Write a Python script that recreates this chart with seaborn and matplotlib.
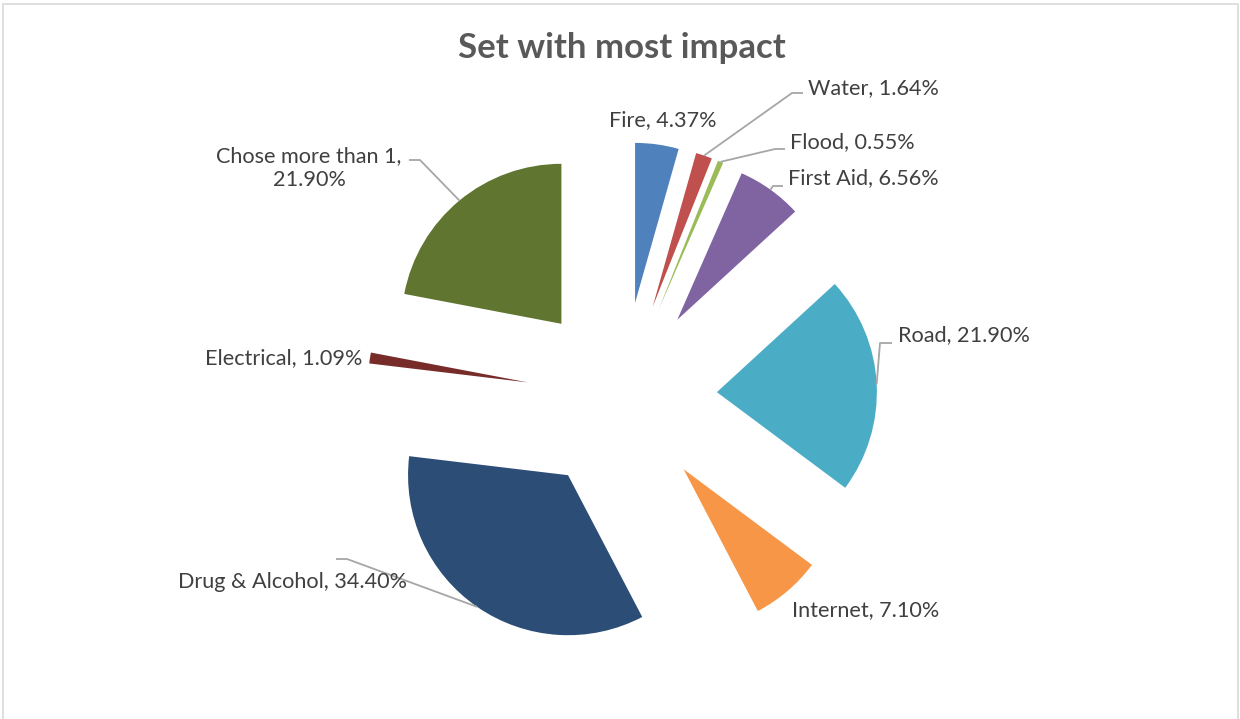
import matplotlib
matplotlib.use("Agg")
import matplotlib.pyplot as plt
import seaborn as sns
import numpy as np
from matplotlib.patches import Rectangle

categories = ["Fire", "Water", "Flood", "First Aid", "Road", "Internet",
              "Drug & Alcohol", "Electrical", "Chose more than 1"]
shares = [4.37, 1.64, 0.55, 6.56, 21.90, 7.10, 34.40, 1.09, 21.90]
colors = ["#4F81BD", "#C0504D", "#9BBB59", "#8064A2", "#4BACC6",
          "#F79646", "#2C4D75", "#772C2A", "#5F7530"]

sns.set_theme(style="white")
plt.rcParams["font.family"] = ["Lato", "DejaVu Sans"]

W, H = 1240, 719
fig = plt.figure(figsize=(W / 100, H / 100), dpi=100)
ax = fig.add_axes([0, 0, 1, 1])
ax.set_xlim(0, W)
ax.set_ylim(0, H)
ax.set_aspect("equal")
ax.axis("off")


def py(y):
    # pixel row (from top) -> data y
    return H - y


# chart frame
ax.add_patch(Rectangle((2.5, -10), 1235, py(3.5) + 10, fill=False,
                       edgecolor="#D9D9D9", lw=1.2, clip_on=False))

# pie works in pixel units here, so explode is an absolute offset
wedges, _ = ax.pie(shares, colors=colors, startangle=90, counterclock=False,
                   radius=160, center=(622, py(397)),
                   explode=[95] * len(shares),
                   wedgeprops=dict(linewidth=0))
ax.set_xlim(0, W)
ax.set_ylim(0, H)

fig.text(622 / W, 1 - 48 / H, "Set with most impact", ha="center", va="center",
         fontsize=25, fontweight="bold", color="#595959")

# label layout: (text x, text y, ha, elbow far x, elbow near x, elbow y)
layout = [
    (663, 120, "center", None),
    (808, 88, "left", (803, 792, 93)),
    (790, 142, "left", (785, 775, 149)),
    (788, 178, "left", (783, 773, 186)),
    (898, 335, "left", (892, 880, 343)),
    (792, 610, "left", None),
    (178, 582, "left", (336, 347, 559)),
    (205, 358, "left", None),
    (309, 168, "center", (409, 420, 160)),
]

for cat, val, w, (tx, ty, ha, elbow) in zip(categories, shares, wedges, layout):
    if cat == "Chose more than 1":
        label = f"{cat},\n{val:.2f}%"
    else:
        label = f"{cat}, {val:.2f}%"
    ax.text(tx, py(ty), label, ha=ha, va="center", fontsize=15.6,
            color="#404040", linespacing=1.3, multialignment="center")
    if elbow is not None:
        mid = np.deg2rad((w.theta1 + w.theta2) / 2)
        ex = w.center[0] + w.r * np.cos(mid)
        ey = w.center[1] + w.r * np.sin(mid)
        x0, x1, ey_pix = elbow
        ax.plot([x0, x1, ex], [py(ey_pix), py(ey_pix), ey],
                color="#A6A6A6", lw=1.3, solid_capstyle="butt")

fig.savefig("out.png", dpi=100, facecolor="white")
